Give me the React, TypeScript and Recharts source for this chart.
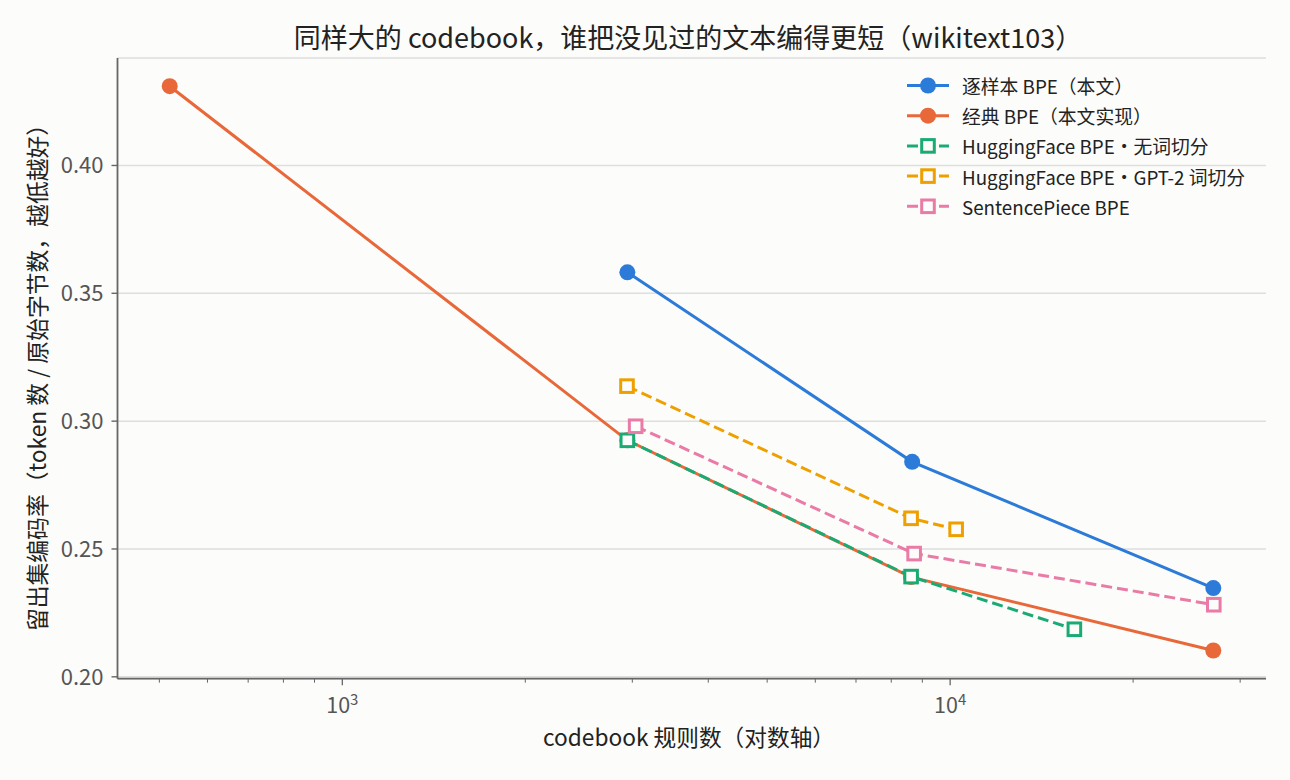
import { LineChart, Line, XAxis, YAxis, CartesianGrid } from 'recharts';

// codebook rule counts (x) and held-out compression ratio (y)
const sampleX = [2944, 8660, 27100];
const sampleY = [0.3582, 0.2841, 0.2347];
const classicX = [520, 2944, 8625, 27100];
const classicY = [0.4310, 0.2925, 0.2390, 0.2103];
const hfNoSplitX = [2944, 8625, 16010];
const hfNoSplitY = [0.2925, 0.2392, 0.2186];
const hfGpt2X = [2940, 8625, 10230];
const hfGpt2Y = [0.3137, 0.2620, 0.2577];
const spX = [3038, 8725, 27150];
const spY = [0.2980, 0.2482, 0.2282];

const xTicks = [500, 600, 700, 800, 900, 1000, 2000, 3000, 4000, 5000, 6000, 7000, 8000, 9000, 10000, 20000, 30000];
const yTicks = [0.2, 0.25, 0.3, 0.35, 0.4];

const TITLE = '同样大的 codebook，谁把没见过的文本编得更短（wikitext103）';
const X_LABEL = 'codebook 规则数（对数轴）';
const Y_LABEL = '留出集编码率（token 数 / 原始字节数，越低越好）';

const FONT = '"Noto Sans CJK SC", "Noto Sans", sans-serif';
const BG = '#fcfcfa';
const AXIS = '#666666';
const LW = 3;
const DASH = '11 5';

const zip = (xs: number[], ys: number[]) => xs.map((x, i) => ({ x, y: ys[i] }));

const series = [
  { name: '逐样本 BPE（本文）', data: zip(sampleX, sampleY), color: '#2c7bd8', marker: 'circle', dashed: false },
  { name: '经典 BPE（本文实现）', data: zip(classicX, classicY), color: '#e9683a', marker: 'circle', dashed: false },
  { name: 'HuggingFace BPE・无词切分', data: zip(hfNoSplitX, hfNoSplitY), color: '#1aab74', marker: 'square', dashed: true },
  { name: 'HuggingFace BPE・GPT-2 词切分', data: zip(hfGpt2X, hfGpt2Y), color: '#eda000', marker: 'square', dashed: true },
  { name: 'SentencePiece BPE', data: zip(spX, spY), color: '#e97ba6', marker: 'square', dashed: true },
];

// matplotlib-style 5% margins
const allX = [...sampleX, ...classicX, ...hfNoSplitX, ...hfGpt2X, ...spX];
const allY = [...sampleY, ...classicY, ...hfNoSplitY, ...hfGpt2Y, ...spY];
const lx0 = Math.log10(Math.min(...allX));
const lx1 = Math.log10(Math.max(...allX));
const xDomain = [10 ** (lx0 - 0.05 * (lx1 - lx0)), 10 ** (lx1 + 0.05 * (lx1 - lx0))];
const y0 = Math.min(...allY);
const y1 = Math.max(...allY);
const yDomain = [y0 - 0.05 * (y1 - y0), y1 + 0.05 * (y1 - y0)];

function LogTick(props: any) {
  const { x, y, payload } = props;
  const v = payload.value;
  const major = v === 1000 || v === 10000;
  return (
    <g>
      <line x1={x} x2={x} y1={y} y2={y + (major ? 6.5 : 4)} stroke={AXIS} strokeWidth={major ? 1.3 : 1} />
      {major && (
        <text x={x} y={y + 34} textAnchor="middle" fontSize={21.5} fill="#555" fontFamily={FONT}>
          <tspan>10</tspan>
          <tspan dy={-8} fontSize={15}>{Math.round(Math.log10(v))}</tspan>
        </text>
      )}
    </g>
  );
}

function makeDot(color: string, marker: string) {
  return (p: any) => {
    if (p.cx == null || p.cy == null) return <g key={p.index} />;
    if (marker === 'circle') return <circle key={p.index} cx={p.cx} cy={p.cy} r={8} fill={color} />;
    return <rect key={p.index} x={p.cx - 6.3} y={p.cy - 6.3} width={12.6} height={12.6} fill={BG} stroke={color} strokeWidth={3} />;
  };
}

export default function App() {
  return (
    <div style={{ position: 'absolute', left: 0, top: 0, width: 1290, height: 780, background: BG, fontFamily: FONT }}>
      <LineChart width={1290} height={780} margin={{ top: 58, right: 24, bottom: 0, left: 57.5 }}>
        <CartesianGrid vertical={false} stroke="#dedede" strokeWidth={1.5} />
        <XAxis
          dataKey="x"
          type="number"
          scale="log"
          domain={xDomain}
          allowDataOverflow
          ticks={xTicks}
          interval={0}
          height={101.3}
          tickSize={0}
          tickMargin={0}
          tickLine={false}
          axisLine={{ stroke: AXIS, strokeWidth: 1.8 }}
          tick={<LogTick />}
        />
        <YAxis
          type="number"
          domain={yDomain}
          allowDataOverflow
          ticks={yTicks}
          interval={0}
          width={60}
          tickSize={6}
          tickMargin={8}
          tickFormatter={(v: number) => v.toFixed(2)}
          tick={{ fill: '#555', fontSize: 22, fontFamily: FONT }}
          tickLine={{ stroke: AXIS, strokeWidth: 1.4 }}
          axisLine={{ stroke: AXIS, strokeWidth: 1.8 }}
        />
        {series.map((s) => (
          <Line
            key={s.name}
            data={s.data}
            dataKey="y"
            type="linear"
            stroke={s.color}
            strokeWidth={LW}
            strokeDasharray={s.dashed ? DASH : undefined}
            dot={makeDot(s.color, s.marker)}
            activeDot={false}
            isAnimationActive={false}
          />
        ))}
      </LineChart>
      <svg width={1290} height={780} style={{ position: 'absolute', left: 0, top: 0, pointerEvents: 'none' }}>
        <text x={688} y={36} textAnchor="middle" dominantBaseline="central" fontSize={27} fill="#222" fontFamily={FONT}>
          {TITLE}
        </text>
        <text x={689} y={736} textAnchor="middle" dominantBaseline="central" fontSize={22.7} fill="#222" fontFamily={FONT}>
          {X_LABEL}
        </text>
        <text
          x={36}
          y={372}
          textAnchor="middle"
          dominantBaseline="central"
          fontSize={22.8}
          fill="#222"
          fontFamily={FONT}
          transform="rotate(-90 36 372)"
        >
          {Y_LABEL}
        </text>
        {series.map((s, i) => {
          const cy = 85.5 + i * 30.2;
          return (
            <g key={s.name}>
              <line x1={907} x2={949} y1={cy} y2={cy} stroke={s.color} strokeWidth={LW} strokeDasharray={s.dashed ? DASH : undefined} />
              {s.marker === 'circle' ? (
                <circle cx={928} cy={cy} r={8} fill={s.color} />
              ) : (
                <rect x={921.7} y={cy - 6.3} width={12.6} height={12.6} fill={BG} stroke={s.color} strokeWidth={3} />
              )}
              <text x={962} y={cy} dominantBaseline="central" fontSize={18.8} fill="#222" fontFamily={FONT}>
                {s.name}
              </text>
            </g>
          );
        })}
      </svg>
    </div>
  );
}
